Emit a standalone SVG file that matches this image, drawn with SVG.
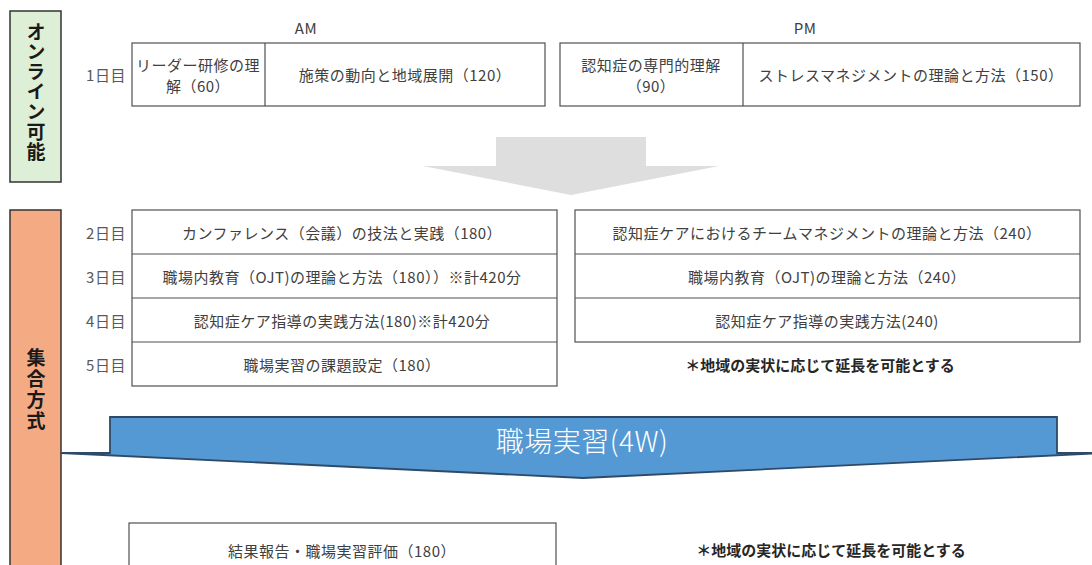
<svg xmlns="http://www.w3.org/2000/svg" width="1092" height="565" viewBox="0 0 1092 565">
<style>
text{font-family:"Noto Sans CJK JP","Noto Sans",sans-serif;}
.t{font-size:15px;fill:#404040;text-anchor:middle;dominant-baseline:central;letter-spacing:0.5px;}
.day{font-size:15px;fill:#595959;text-anchor:middle;dominant-baseline:central;letter-spacing:0.5px;}
.box{fill:#fff;stroke:#505050;stroke-width:1.2;}
.ln{stroke:#505050;stroke-width:1.2;}
.note{font-size:15px;font-weight:bold;fill:#262626;text-anchor:middle;dominant-baseline:central;}
.vt{font-size:19px;font-weight:bold;fill:#1a1a1a;writing-mode:vertical-rl;text-orientation:upright;text-anchor:middle;}
</style>
<rect width="1092" height="565" fill="#fff"/>
<g id="online-label">
<rect x="10" y="11" width="51" height="171" fill="#DDEFD6" stroke="#333" stroke-width="1.5"/>
<text class="vt" x="36" y="92" letter-spacing="1">オンライン可能</text>
</g>
<g id="group-label">
<rect x="10" y="210" width="51" height="370" fill="#F4AB84" stroke="#333" stroke-width="1.5"/>
<text class="vt" x="36" y="390" letter-spacing="2">集合方式</text>
</g>
<g id="headers">
<text class="t" x="306" y="27">AM</text>
<text class="t" x="805" y="27">PM</text>
</g>
<g id="day-labels">
<text class="day" x="106" y="74">1日目</text>
<text class="day" x="106" y="232">2日目</text>
<text class="day" x="106" y="276">3日目</text>
<text class="day" x="106" y="320">4日目</text>
<text class="day" x="106" y="364">5日目</text>
</g>
<g id="day1-am">
<rect class="box" x="132" y="43" width="413" height="63"/>
<line class="ln" x1="265" y1="43" x2="265" y2="106"/>
<text class="t" x="198" y="64">リーダー研修の理</text>
<text class="t" x="198" y="85">解（60）</text>
<text class="t" x="405" y="74">施策の動向と地域展開（120）</text>
</g>
<g id="day1-pm">
<rect class="box" x="560" y="43" width="520" height="63"/>
<line class="ln" x1="743" y1="43" x2="743" y2="106"/>
<text class="t" x="651" y="64">認知症の専門的理解</text>
<text class="t" x="651" y="85">（90）</text>
<text class="t" x="911" y="74">ストレスマネジメントの理論と方法（150）</text>
</g>
<g id="gray-arrow">
<polygon points="496,137 646,137 646,166 719,166 571,195 423,166 496,166" fill="#DEDEDE"/>
</g>
<g id="days-am">
<rect class="box" x="132" y="210" width="425" height="176"/>
<line class="ln" x1="132" y1="254" x2="557" y2="254"/>
<line class="ln" x1="132" y1="298" x2="557" y2="298"/>
<line class="ln" x1="132" y1="342" x2="557" y2="342"/>
<text class="t" x="342" y="232">カンファレンス（会議）の技法と実践（180）</text>
<text class="t" x="342" y="276">職場内教育（OJT)の理論と方法（180））※計420分</text>
<text class="t" x="342" y="320">認知症ケア指導の実践方法(180)※計420分</text>
<text class="t" x="342" y="364">職場実習の課題設定（180）</text>
</g>
<g id="days-pm">
<rect class="box" x="575" y="210" width="505" height="132"/>
<line class="ln" x1="575" y1="254" x2="1080" y2="254"/>
<line class="ln" x1="575" y1="298" x2="1080" y2="298"/>
<text class="t" x="827" y="232">認知症ケアにおけるチームマネジメントの理論と方法（240）</text>
<text class="t" x="827" y="276">職場内教育（OJT)の理論と方法（240）</text>
<text class="t" x="827" y="320">認知症ケア指導の実践方法(240)</text>
</g>
<g id="note1">
<text class="note" x="820" y="364">＊地域の実状に応じて延長を可能とする</text>
</g>
<g id="practice-arrow">
<polygon points="110,417 1057,417 1057,453 1105,453 583,478 61,453 110,453" fill="#5499D3" stroke="#2E4A68" stroke-width="1.8" stroke-linejoin="miter"/>
<text x="582" y="440" font-size="28" fill="#fff" text-anchor="middle" dominant-baseline="central" font-weight="300" letter-spacing="0.5">職場実習(4W)</text>
</g>
<g id="day-final">
<rect class="box" x="129" y="523" width="427" height="60"/>
<text class="t" x="342" y="550">結果報告・職場実習評価（180）</text>
</g>
<g id="note2">
<text class="note" x="831" y="549" font-size="15.5">＊地域の実状に応じて延長を可能とする</text>
</g>
<g id="connectors"></g>
</svg>
